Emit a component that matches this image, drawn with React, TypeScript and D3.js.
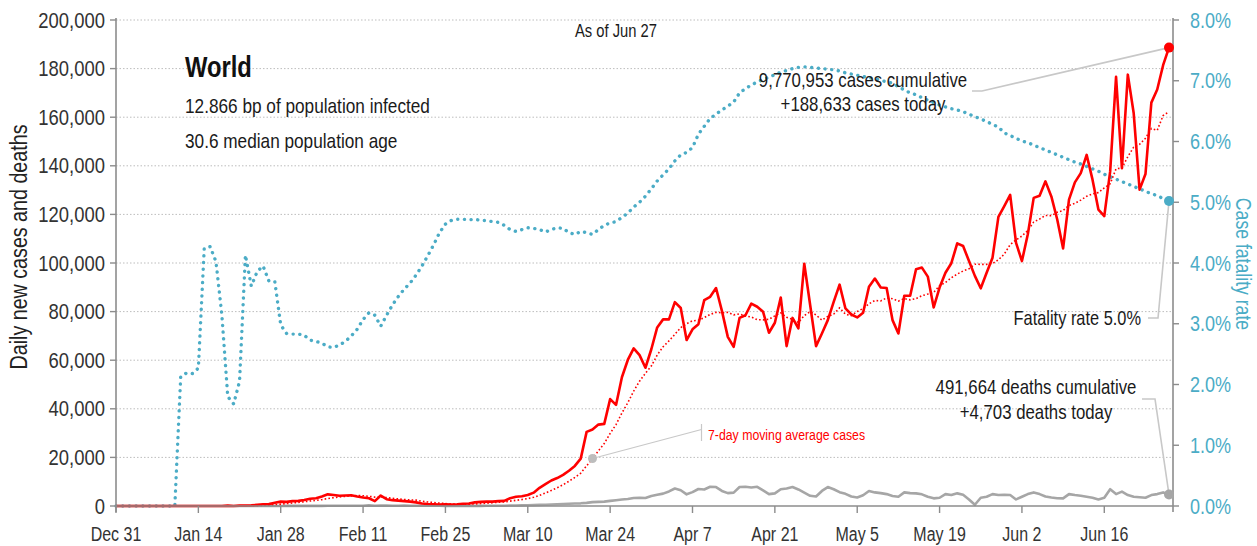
import React from 'react';
import * as d3 from 'd3';

// ---------- DATA ----------
const START_DATE = new Date(2019, 11, 31);

const dailyCases = [
  27, 0, 0, 0, 17, 0, 15, 0, 0, 0, 0, 0, 1, 1, 1, 1, 0, 4, 17, 136, 20,
  150, 140, 259, 460, 690, 780, 1300, 1800, 1700, 2000,
  2100, 2500, 3000, 3200, 3900, 4800, 4500, 4200, 4300, 4400,
  3900, 3500, 3200, 2000, 4300, 2800, 2400, 2200, 2000, 1800,
  1500, 1000, 800, 700, 600, 650, 600, 700, 900, 1000,
  1500, 1700, 1800, 1800, 2000, 2100, 3200, 3800, 4000, 4500,
  5500, 7500, 9000, 10500, 11500, 12800, 14500, 16500, 19500, 30500,
  31500, 33500, 33800, 44000, 41600, 53000, 60100, 64900, 62100, 56900,
  64500, 73500, 76800, 76800, 83900, 81500, 68300, 72700, 74800, 84700,
  86100, 89700, 80300, 69600, 65500, 77400, 78500, 83300, 82000, 79900,
  71300, 75400, 85800, 65800, 77400, 73100, 99700, 82700, 65800, 71000,
  76500, 84000, 91100, 81300, 78800, 77600, 79500, 90200, 93600, 89900,
  89700, 76500, 71000, 86500, 86500, 97400, 98100, 94400, 81700, 89900,
  96000, 99900, 108100, 107000, 100800, 94700, 89600, 96000, 102200, 119000,
  123400, 128000, 108300, 100800, 111800, 126800, 127700, 133600, 127400, 117900,
  106000, 126100, 133200, 137000, 144500, 134300, 122000, 119300, 137700, 176600,
  139000, 177500, 161600, 130200, 136600, 166000, 171400, 181400, 188633,
];

const dailyDeaths = [
  0, 0, 0, 0, 0, 0, 0, 0, 0, 0, 1, 0, 0, 0, 0, 0, 0, 0, 0, 0, 0,
  3, 11, 8, 16, 15, 24, 26, 26, 38, 43,
  46, 45, 57, 64, 65, 73, 73, 86, 89, 97,
  108, 97, 254, 121, 143, 142, 106, 98, 139, 115,
  125, 118, 110, 98, 152, 70, 52, 45, 64, 65,
  55, 63, 86, 100, 102, 114, 212, 190, 240, 290,
  350, 450, 520, 600, 700, 800, 900, 1000, 1100, 1300,
  1600, 1700, 1800, 2100, 2400, 2700, 2900, 3300, 3400, 3300,
  4100, 4600, 5100, 6000, 7200, 6500, 4800, 5700, 7000, 6800,
  7900, 7800, 6200, 5300, 5500, 7800, 7900, 7600, 7900, 6400,
  4900, 5200, 6900, 7200, 7800, 6800, 5500, 4200, 3900, 6200,
  7800, 6900, 5700, 5000, 3900, 3500, 4400, 6200, 5600, 5300,
  4900, 4100, 3800, 5600, 5300, 5200, 4800, 3800, 3150, 3400,
  4900, 4500, 5200, 4600, 2700, 500, 3400, 3800, 4900, 4500,
  4600, 4500, 2700, 3800, 4900, 5600, 4900, 3900, 3500, 3200,
  3150, 4900, 4500, 4200, 3800, 3400, 2700, 3400, 6900, 4900,
  5900, 4500, 3800, 3600, 3400, 4500, 4900, 5600, 4703,
];

// case fatality rate, percent
const fatalityRatePct = [
  0, 0, 0, 0, 0, 0, 0, 0, 0, 0, 0,
  2.13, 2.19, 2.18, 2.27, 4.24, 4.27, 4.02, 3.14, 1.80, 1.68,
  2.05, 4.13, 3.62, 3.86, 3.95, 3.70, 3.69, 2.98, 2.84, 2.83,
  2.83, 2.81, 2.73, 2.71, 2.68, 2.62, 2.61, 2.65, 2.71, 2.80,
  2.91, 3.07, 3.18, 3.14, 2.96, 3.14, 3.31, 3.45, 3.57, 3.67,
  3.80, 3.95, 4.12, 4.30, 4.50, 4.64, 4.70, 4.72, 4.72, 4.71,
  4.72, 4.70, 4.70, 4.68, 4.67, 4.62, 4.55, 4.52, 4.55, 4.58,
  4.57, 4.55, 4.51, 4.55, 4.58, 4.57, 4.50, 4.47, 4.52, 4.50,
  4.47, 4.55, 4.62, 4.66, 4.68, 4.75, 4.82, 4.92, 5.00, 5.10,
  5.22, 5.35, 5.45, 5.55, 5.68, 5.78, 5.82, 5.90, 6.12, 6.25,
  6.38, 6.45, 6.52, 6.58, 6.65, 6.80, 6.87, 6.93, 6.98, 7.02,
  7.06, 7.10, 7.14, 7.17, 7.20, 7.22, 7.23, 7.22, 7.21, 7.20,
  7.19, 7.18, 7.16, 7.13, 7.11, 7.09, 7.07, 7.05, 7.03, 7.01,
  6.98, 6.96, 6.90, 6.85, 6.80, 6.77, 6.72, 6.68, 6.64, 6.60,
  6.57, 6.54, 6.52, 6.49, 6.45, 6.41, 6.37, 6.33, 6.28, 6.24,
  6.14, 6.10, 6.05, 6.01, 5.98, 5.94, 5.90, 5.86, 5.82, 5.78,
  5.74, 5.70, 5.66, 5.63, 5.59, 5.55, 5.51, 5.46, 5.42, 5.38,
  5.34, 5.30, 5.26, 5.22, 5.18, 5.14, 5.11, 5.06, 5.02,
];

const leftTicks = [0, 20000, 40000, 60000, 80000, 100000, 120000, 140000, 160000, 180000, 200000];
const rightTicks = [0, 1, 2, 3, 4, 5, 6, 7, 8];
const xTickStepDays = 14;

const titleText = 'World';
const infoLines = ['12.866 bp of population infected', '30.6 median population age'];
const asOfText = 'As of Jun 27';
const casesNote = ['9,770,953 cases cumulative', '+188,633 cases today'];
const deathsNote = ['491,664 deaths cumulative', '+4,703 deaths today'];
const fatalityNote = 'Fatality rate 5.0%';
const maNote = '7-day moving average cases';
const maNoteDay = 81;

// ---------- STYLE ----------
const FONT = "'Liberation Sans', Arial, sans-serif";
const SX = 0.82; // horizontal condensing to emulate a narrow face
const RED = '#ff0000';
const BLUE = '#4bacc6';
const GRAY = '#a6a6a6';
const AXIS = '#8c8c8c';
const LEADER = '#c8c8c8';
const TEXT = '#1a1a1a';

const W = 1257;
const H = 546;
const PLOT = { left: 116, right: 1173, top: 20, bottom: 506 };

type TProps = {
  x: number;
  y: number;
  size: number;
  anchor?: 'start' | 'middle' | 'end';
  fill?: string;
  weight?: string | number;
  rotate?: number;
  children: React.ReactNode;
};

function T({ x, y, size, anchor = 'start', fill = TEXT, weight = 'normal', rotate = 0, children }: TProps) {
  return (
    <text
      transform={`translate(${x},${y}) rotate(${rotate}) scale(${SX},1)`}
      fontSize={size}
      textAnchor={anchor}
      fill={fill}
      fontWeight={weight}
    >
      {children}
    </text>
  );
}

export default function App() {
  const n = dailyCases.length;
  const dates = dailyCases.map((_, i) => d3.timeDay.offset(START_DATE, i));
  const x = d3
    .scaleTime()
    .domain([START_DATE, dates[n - 1]])
    .range([PLOT.left, 1169]);
  const yL = d3.scaleLinear().domain([0, 200000]).range([PLOT.bottom, PLOT.top]);
  const yR = d3.scaleLinear().domain([0, 8]).range([PLOT.bottom, PLOT.top]);

  const movingAvg = dailyCases.map((_, i) =>
    d3.mean(dailyCases.slice(Math.max(0, i - 6), i + 1)) as number
  );

  const lineL = d3
    .line<number>()
    .x((_, i) => x(dates[i]))
    .y((v) => yL(v));
  const lineR = d3
    .line<number>()
    .x((_, i) => x(dates[i]))
    .y((v) => yR(v));

  const xTicks = d3.range(0, n, xTickStepDays).map((i) => d3.timeDay.offset(START_DATE, i));
  const fmtDate = d3.timeFormat('%b %-d');
  const fmtNum = d3.format(',');

  const last = n - 1;
  const lx = x(dates[last]);
  const caseY = yL(dailyCases[last]);
  const deathY = yL(dailyDeaths[last]);
  const cfrY = yR(fatalityRatePct[last]);
  const maX = x(dates[maNoteDay]);
  const maY = yL(movingAvg[maNoteDay]);

  return (
    <svg
      width={W}
      height={H}
      style={{ position: 'absolute', left: 0, top: 0, background: '#fff' }}
      fontFamily={FONT}
    >
      <rect x={0} y={0} width={W} height={H} fill="#fff" />

      {/* gridlines */}
      {leftTicks
        .filter((t) => t > 0)
        .map((t) => (
          <line
            key={'g' + t}
            x1={PLOT.left}
            x2={PLOT.right}
            y1={yL(t)}
            y2={yL(t)}
            stroke="#bdbdbd"
            strokeWidth={1}
            strokeDasharray="1.5 2"
          />
        ))}

      {/* series */}
      <path
        d={lineR(fatalityRatePct) || ''}
        fill="none"
        stroke={BLUE}
        strokeWidth={3.4}
        strokeLinecap="round"
        strokeDasharray="0.1 6.6"
      />
      <path d={lineL(dailyDeaths) || ''} fill="none" stroke={GRAY} strokeWidth={2.6} strokeLinejoin="round" />
      <path
        d={lineL(movingAvg) || ''}
        fill="none"
        stroke={RED}
        strokeWidth={1.6}
        strokeDasharray="1.6 2.2"
      />
      <path d={lineL(dailyCases) || ''} fill="none" stroke={RED} strokeWidth={2.6} strokeLinejoin="round" />

      {/* axes */}
      <line x1={PLOT.left} x2={PLOT.left} y1={PLOT.top - 2} y2={PLOT.bottom + 6} stroke={AXIS} strokeWidth={1.6} />
      <line x1={PLOT.right} x2={PLOT.right} y1={PLOT.top - 2} y2={PLOT.bottom + 6} stroke={AXIS} strokeWidth={1.6} />
      <line x1={PLOT.left} x2={PLOT.right} y1={PLOT.bottom} y2={PLOT.bottom} stroke={AXIS} strokeWidth={1.6} />

      {leftTicks.map((t) => (
        <g key={'lt' + t}>
          <line x1={PLOT.left - 6} x2={PLOT.left} y1={yL(t)} y2={yL(t)} stroke={AXIS} strokeWidth={1.4} />
          <T x={PLOT.left - 11} y={yL(t) + 7.5} anchor="end" size={22.5} fill="#333">
            {fmtNum(t)}
          </T>
        </g>
      ))}
      {rightTicks.map((t) => (
        <g key={'rt' + t}>
          <line x1={PLOT.right} x2={PLOT.right + 6} y1={yR(t)} y2={yR(t)} stroke={AXIS} strokeWidth={1.4} />
          <T x={PLOT.right + 17} y={yR(t) + 7.5} size={22} fill={BLUE}>
            {t.toFixed(1)}%
          </T>
        </g>
      ))}
      {xTicks.map((t, i) => (
        <g key={'xt' + i}>
          <line x1={x(t)} x2={x(t)} y1={PLOT.bottom} y2={PLOT.bottom + 7} stroke={AXIS} strokeWidth={1.4} />
          <T x={x(t)} y={541} anchor="middle" size={19.5} fill="#333">
            {fmtDate(t)}
          </T>
        </g>
      ))}

      <T x={27} y={247} rotate={-90} anchor="middle" size={24} fill="#222">
        Daily new cases and deaths
      </T>
      <T x={1236} y={264} rotate={90} anchor="middle" size={21.5} fill={BLUE}>
        Case fatality rate
      </T>

      {/* titles */}
      <T x={185} y={77} size={29} weight="bold" fill="#111">
        {titleText}
      </T>
      {infoLines.map((s, i) => (
        <T key={s} x={185} y={113 + i * 35} size={21}>
          {s}
        </T>
      ))}
      <T x={616} y={37} anchor="middle" size={18}>
        {asOfText}
      </T>

      {/* cases annotation */}
      <polyline
        points={`972,91 982,91 ${lx},${caseY}`}
        fill="none"
        stroke={LEADER}
        strokeWidth={1.6}
      />
      {casesNote.map((s, i) => (
        <T key={s} x={863} y={87 + i * 23.5} anchor="middle" size={20.5}>
          {s}
        </T>
      ))}

      {/* fatality annotation */}
      <polyline
        points={`1148,318 1158,318 ${lx},${cfrY}`}
        fill="none"
        stroke={LEADER}
        strokeWidth={1.6}
      />
      <T x={1141} y={325} anchor="end" size={20}>
        {fatalityNote}
      </T>

      {/* deaths annotation */}
      <polyline
        points={`1142,399 1155,399 ${lx},${deathY}`}
        fill="none"
        stroke={LEADER}
        strokeWidth={1.6}
      />
      {deathsNote.map((s, i) => (
        <T key={s} x={1036} y={394 + i * 25} anchor="middle" size={20.5}>
          {s}
        </T>
      ))}

      {/* moving average annotation */}
      <line x1={maX} y1={maY} x2={701.5} y2={429.5} stroke={LEADER} strokeWidth={1.2} />
      <line x1={701.5} y1={424} x2={701.5} y2={441} stroke={LEADER} strokeWidth={1.2} />
      <circle cx={maX} cy={maY} r={4.5} fill="#bdbdbd" />
      <T x={708} y={439.5} size={15} fill={RED}>
        {maNote}
      </T>

      {/* end markers */}
      <circle cx={lx} cy={caseY} r={5} fill={RED} />
      <circle cx={lx} cy={cfrY} r={5} fill={BLUE} />
      <circle cx={lx} cy={deathY} r={5} fill={GRAY} />
    </svg>
  );
}
